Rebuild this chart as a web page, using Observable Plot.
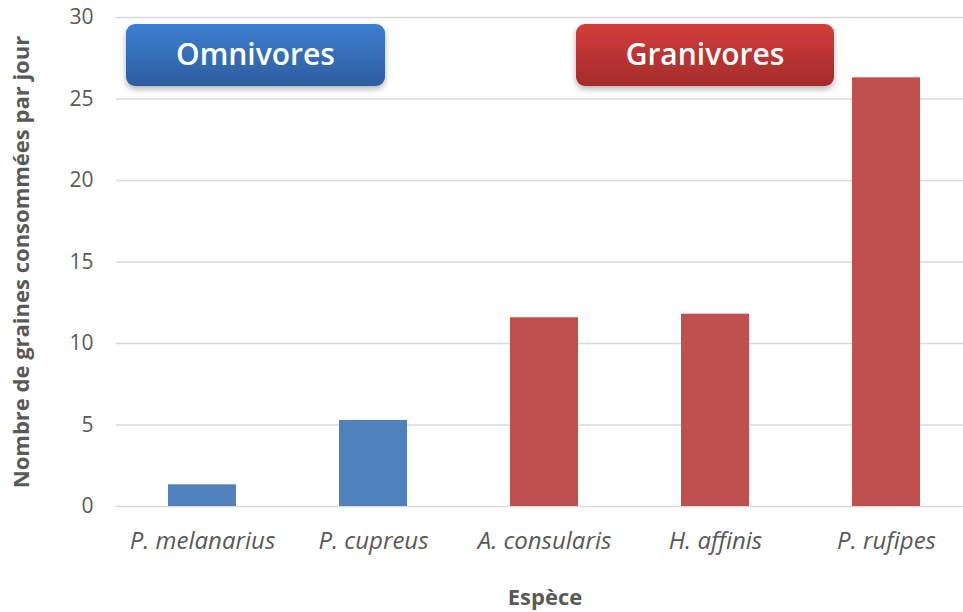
<!DOCTYPE html>
<html>
<head>
<meta charset="utf-8">
<script src="https://cdn.jsdelivr.net/npm/d3@7"></script>
<script src="https://cdn.jsdelivr.net/npm/@observablehq/plot@0.6"></script>
<style>
  html, body { margin: 0; padding: 0; background: #fff; }
</style>
</head>
<body>
<div id="chart"></div>
<script>
const species = ["P. melanarius", "P. cupreus", "A. consularis", "H. affinis", "P. rufipes"];
const grains = [1.33, 5.28, 11.58, 11.8, 26.3];
const diet = ["Omnivores", "Omnivores", "Granivores", "Granivores", "Granivores"];
const yTicks = [0, 5, 10, 15, 20, 25, 30];
const groupLabels = ["Omnivores", "Granivores"];
const groupColors = ["#4f81bd", "#c0504d"];
const yTitle = "Nombre de graines consommées par jour";
const xTitle = "Espèce";

(function () {
const data = species.map((s, i) => ({species: s, value: grains[i], diet: diet[i]}));

const chart = Plot.plot({
  width: 963,
  height: 612,
  marginLeft: 116,
  marginRight: 0,
  marginTop: 17,
  marginBottom: 106,
  style: {fontFamily: "'Open Sans', sans-serif", color: "#595959", background: "#fff"},
  x: {domain: species, range: [116, 973], paddingInner: 0.6, paddingOuter: 0.3},
  y: {domain: [0, 30]},
  color: {domain: groupLabels, range: groupColors},
  marks: [
    Plot.ruleY(yTicks, {stroke: "#d9d9d9", strokeWidth: 1.3}),
    Plot.barY(data, {x: "species", y: "value", fill: "diet"}),
    Plot.axisY({ticks: yTicks, tickSize: 0, tickPadding: 23, fontSize: 21, label: null}),
    Plot.axisX({tickSize: 0, tickPadding: 25, fontSize: 24, fontStyle: "italic", label: null}),
    Plot.text([yTitle], {text: d => d, frameAnchor: "left", textAnchor: "middle", rotate: -90, dx: -95, fontSize: 22, fontWeight: "bold", fill: "#595959"}),
    Plot.text([xTitle], {text: d => d, frameAnchor: "bottom", dx: 5, dy: 98, fontSize: 22, fontWeight: "bold", fill: "#595959"})
  ]
});

// Group label boxes (annotations)
const svg = d3.select(chart);
const defs = svg.append("defs");
const grads = [
  {id: "gBlue", top: "#3d7fd0", bottom: "#2d5d9f"},
  {id: "gRed", top: "#d33d3b", bottom: "#a42b2b"}
];
grads.forEach(g => {
  const lg = defs.append("linearGradient").attr("id", g.id).attr("x1", 0).attr("y1", 0).attr("x2", 0).attr("y2", 1);
  lg.append("stop").attr("offset", "0%").attr("stop-color", g.top);
  lg.append("stop").attr("offset", "100%").attr("stop-color", g.bottom);
});
const f = defs.append("filter").attr("id", "shadow").attr("x", "-10%").attr("y", "-20%").attr("width", "120%").attr("height", "150%");
f.append("feDropShadow").attr("dx", 0).attr("dy", 3).attr("stdDeviation", 3).attr("flood-color", "#000").attr("flood-opacity", 0.3);

const ys = chart.scale("y");
const boxLayout = [
  {left: 126, right: 385},
  {left: 576, right: 834}
];
const boxTop = ys.apply(29.57), boxBottom = ys.apply(25.77);
const g = svg.append("g");
groupLabels.forEach((lab, i) => {
  const b = boxLayout[i];
  g.append("rect")
    .attr("x", b.left).attr("y", boxTop)
    .attr("width", b.right - b.left).attr("height", boxBottom - boxTop)
    .attr("rx", 9).attr("ry", 9)
    .attr("fill", `url(#${grads[i].id})`)
    .attr("filter", "url(#shadow)");
  g.append("text")
    .attr("x", (b.left + b.right) / 2).attr("y", (boxTop + boxBottom) / 2)
    .attr("dy", "0.35em")
    .attr("text-anchor", "middle")
    .attr("fill", "#fff")
    .attr("font-family", "'Open Sans', sans-serif")
    .attr("font-weight", 600)
    .attr("font-size", 30)
    .text(lab);
});

document.getElementById("chart").appendChild(chart);
})();
</script>
</body>
</html>
